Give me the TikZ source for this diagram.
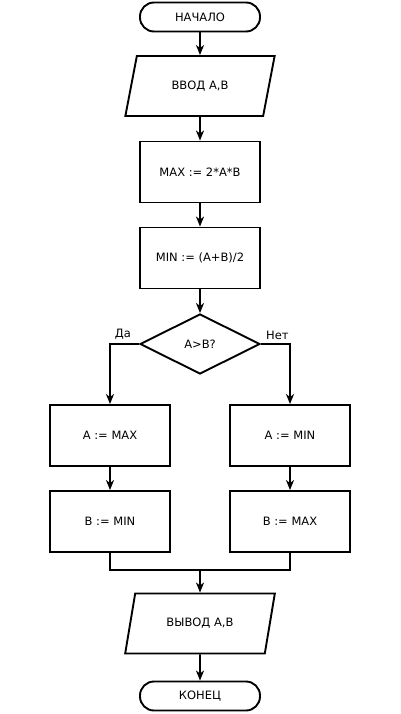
\documentclass[tikz,border=0pt]{standalone}
\usepackage{fontspec}
\setmainfont{DejaVu Sans}
\usetikzlibrary{shapes.geometric,arrows.meta}
\begin{document}
\begin{tikzpicture}[x=1pt,y=-1pt,
  every node/.style={font=\fontsize{11.5}{13}\selectfont, inner sep=0pt},
  line/.style={line width=1.9pt},
  arr/.style={line width=1.9pt, -{Stealth[length=10pt,width=8pt,inset=3pt]}},
  term/.style={draw, line width=1.9pt, rectangle, rounded corners=14pt, minimum width=120pt, minimum height=29pt},
  proc/.style={draw, line width=1.9pt, rectangle, minimum width=120pt, minimum height=61pt},
  io/.style={draw, line width=1.9pt, trapezium, trapezium left angle=63.4, trapezium right angle=116.6, trapezium stretches=true, minimum width=150pt, minimum height=60pt},
  dec/.style={draw, line width=1.9pt, diamond, aspect=2, minimum width=120pt, minimum height=60pt, inner sep=0pt}
]
\useasboundingbox (0,0) rectangle (400,714);
\node[term] (start) at (200,17) {НАЧАЛО};
\node[io] (in) at (200,86) {ВВОД A,B};
\node[proc] (max) at (200,172) {MAX := 2*A*B};
\node[proc] (min) at (200,258) {MIN := (A+B)/2};
\node[dec] (cond) at (200,344) {A>B?};
\node[proc] (a1) at (110,435.5) {A := MAX};
\node[proc] (b1) at (110,521.5) {B := MIN};
\node[proc] (a2) at (290,435.5) {A := MIN};
\node[proc] (b2) at (290,521.5) {B := MAX};
\coordinate (merge) at (200,570);
\node[io] (out) at (200,623.5) {ВЫВОД A,B};
\node[term] (end) at (200,696) {КОНЕЦ};
\node[anchor=south east] (yes) at ([xshift=-8pt,yshift=4pt]cond.west) {Да};
\node[anchor=south west] (no) at ([xshift=5pt,yshift=4pt]cond.east) {Нет};
\draw[arr] (start) -- (in);
\draw[arr] (in) -- (max);
\draw[arr] (max) -- (min);
\draw[arr] (min) -- (cond);
\draw[arr] (cond.west) -| (a1.north);
\draw[arr] (cond.east) -| (a2.north);
\draw[arr] (a1) -- (b1);
\draw[arr] (a2) -- (b2);
\draw[line] (b1.south) |- (merge) -| (b2.south);
\draw[arr] (merge) -- (out);
\draw[arr] (out) -- (end);
\end{tikzpicture}
\end{document}
